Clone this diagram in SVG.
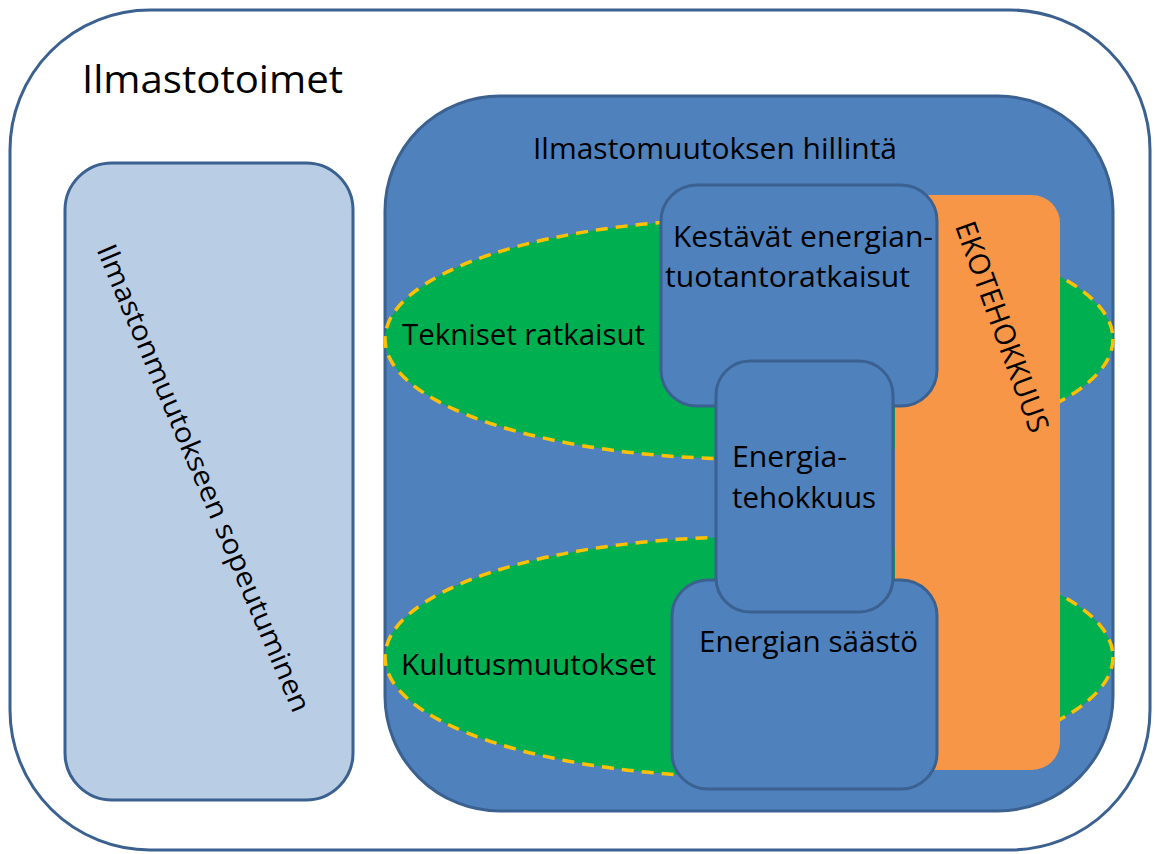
<svg xmlns="http://www.w3.org/2000/svg" width="1155" height="854" viewBox="0 0 1155 854">
<style>
  .lbl { font-family: "Open Sans", "Liberation Sans", sans-serif; fill: #000; }
  .box { fill: #4F81BD; stroke: #3B6190; stroke-width: 3; }
  .ell { fill: #00B050; stroke: #FFC000; stroke-width: 3.5; stroke-dasharray: 12 8; }
</style>
<rect width="1155" height="854" fill="#FFFFFF"/>
<g id="ilmastotoimet">
  <rect x="10" y="10" width="1140" height="840" rx="140" ry="140" fill="#FFFFFF" stroke="#3B6190" stroke-width="3"/>
  <text class="lbl" x="82" y="93" font-size="39" textLength="261" lengthAdjust="spacingAndGlyphs">Ilmastotoimet</text>
</g>
<g id="sopeutuminen">
  <rect x="65" y="163" width="288" height="637" rx="47" ry="47" fill="#B9CDE5" stroke="#3B6190" stroke-width="3"/>
  <text class="lbl" transform="translate(204,478) rotate(67)" x="0" y="10" font-size="28" text-anchor="middle" textLength="505" lengthAdjust="spacingAndGlyphs">Ilmastonmuutokseen sopeutuminen</text>
</g>
<g id="hillinta">
  <rect x="385" y="96" width="728" height="715" rx="115" ry="115" fill="#4F81BD" stroke="#3B6190" stroke-width="3"/>
  <text class="lbl" x="533" y="159" font-size="29" textLength="364" lengthAdjust="spacingAndGlyphs">Ilmastomuutoksen hillintä</text>
</g>
<g id="tekniset-ratkaisut">
  <ellipse class="ell" cx="749" cy="339" rx="364" ry="120"/>
  <text class="lbl" x="402" y="345" font-size="29" textLength="243" lengthAdjust="spacingAndGlyphs">Tekniset ratkaisut</text>
</g>
<g id="kulutusmuutokset">
  <ellipse class="ell" cx="749" cy="657" rx="364" ry="120"/>
  <text class="lbl" x="401" y="675" font-size="29" textLength="255" lengthAdjust="spacingAndGlyphs">Kulutusmuutokset</text>
</g>
<g id="ekotehokkuus">
  <rect x="895" y="195" width="165" height="575" rx="28" ry="28" fill="#F79646"/>
  <text class="lbl" transform="translate(1002,327) rotate(70)" x="0" y="10" font-size="29" text-anchor="middle" textLength="222" lengthAdjust="spacingAndGlyphs">EKOTEHOKKUUS</text>
</g>
<g id="kestavat">
  <rect class="box" x="661" y="185" width="276" height="221" rx="36" ry="36"/>
  <text class="lbl" x="673" y="247" font-size="29" textLength="260" lengthAdjust="spacingAndGlyphs">Kestävät energian-</text>
  <text class="lbl" x="665" y="287" font-size="29" textLength="245" lengthAdjust="spacingAndGlyphs">tuotantoratkaisut</text>
</g>
<g id="saasto">
  <rect class="box" x="672" y="580" width="265" height="209" rx="36" ry="36"/>
  <text class="lbl" x="699" y="652" font-size="29" textLength="219" lengthAdjust="spacingAndGlyphs">Energian säästö</text>
</g>
<g id="energiatehokkuus">
  <rect class="box" x="716" y="361" width="177" height="251" rx="34" ry="34"/>
  <text class="lbl" x="732" y="467" font-size="29" textLength="115" lengthAdjust="spacingAndGlyphs">Energia-</text>
  <text class="lbl" x="732" y="508" font-size="29" textLength="144" lengthAdjust="spacingAndGlyphs">tehokkuus</text>
</g>
<g id="connectors"/>
</svg>
